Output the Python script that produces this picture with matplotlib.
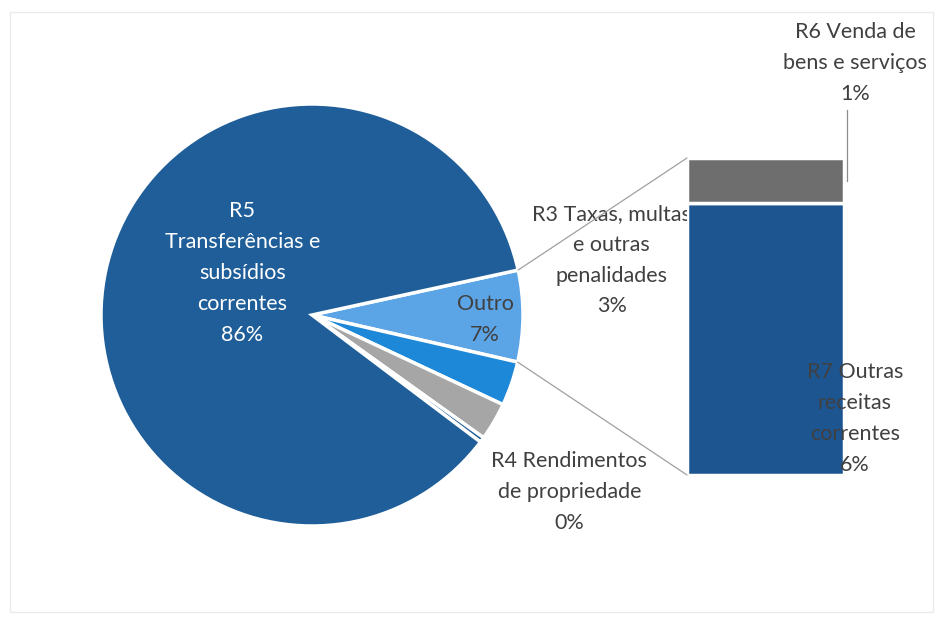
import matplotlib
matplotlib.use("Agg")
import matplotlib.pyplot as plt
from matplotlib.patches import ConnectionPatch, Rectangle
import numpy as np

plt.rcParams['font.family'] = ['Lato', 'DejaVu Sans']

# pie slices (clockwise from the top edge of "Outro")
pie_names = ["Outro", "R3 Taxas, multas\ne outras\npenalidades", "", "R4 Rendimentos\nde propriedade",
             "R5\nTransferências e\nsubsídios\ncorrentes"]
pie_values = [7.0, 3.4, 2.9, 0.4, 86.3]
pie_colors = ["#5BA4E6", "#1D87D8", "#A6A6A6", "#1F5E99", "#1F5E99"]

# bar of the pie ("Outro" split)
bar_names = ["R7 Outras\nreceitas\ncorrentes", "R6 Venda de\nbens e serviços"]
bar_values = [6.0, 1.0]
bar_colors = ["#1D5591", "#6E6E6E"]

W, H = 940, 618
fig = plt.figure(figsize=(W / 100, H / 100), dpi=100)

# faint chart border
fig.patches.append(Rectangle((10 / W, 1 - 612 / H), 923 / W, 600 / H, transform=fig.transFigure,
                             fill=False, edgecolor="#EBEBEB", linewidth=1))

# pie axes: centre (312, 315) px, radius 211 px
cx, cy, r = 312, 315, 211
ax = fig.add_axes([(cx - r) / W, (H - cy - r) / H, 2 * r / W, 2 * r / H])
start = 12.3
wedges, _ = ax.pie(pie_values, colors=pie_colors, startangle=start, counterclock=False, radius=1,
                   wedgeprops=dict(edgecolor="white", linewidth=2.5))
ax.set_xlim(-1, 1)
ax.set_ylim(-1, 1)
ax.axis("off")

total = sum(pie_values)
pct = [f"{round(v / total * 100)}%" for v in pie_values]

txt = dict(ha="center", va="center", fontsize=15.5, linespacing=1.68, color="#404040")
ax.text(-0.33, 0.20, pie_names[4] + "\n" + pct[4], **{**txt, "color": "white"})
ax.text(0.82, -0.02, pie_names[0] + "\n" + pct[0], **txt)
ax.text(1.42, 0.26, pie_names[1] + "\n" + pct[1], clip_on=False, **txt)
ax.text(1.22, -0.84, pie_names[3] + "\n" + pct[3], clip_on=False, **txt)

# bar axes: x 687..844, y 158..475 px
bx0, bx1, by0, by1 = 687, 844, 158, 475
bax = fig.add_axes([bx0 / W, (H - by1) / H, (bx1 - bx0) / W, (by1 - by0) / H])
bar_total = sum(bar_values)
bax.set_xlim(-0.5, 0.5)
bax.set_ylim(0, bar_total)
bax.axis("off")
bottom = 0
for v, c in zip(bar_values, bar_colors):
    bax.bar(0, v, width=1, bottom=bottom, color=c, edgecolor="white", linewidth=2.5)
    bottom += v

bpct = [f"{round(v / total * 100)}%" for v in bar_values]
bax.text(0.57, 1.25, bar_names[0] + "\n" + bpct[0], clip_on=False, **txt)
bax.text(0.57, 9.1, bar_names[1] + "\n" + bpct[1], clip_on=False, **txt)
bax.plot([0.52, 0.52], [6.5, 8.05], color="#8C8C8C", linewidth=0.9, clip_on=False)

# leader lines from the "Outro" wedge to the bar
t1 = np.deg2rad(start)
t2 = np.deg2rad(start - pie_values[0] / total * 360)
for ang, ybar in [(t1, bar_total), (t2, 0)]:
    con = ConnectionPatch(xyA=(np.cos(ang), np.sin(ang)), coordsA=ax.transData,
                          xyB=(-0.5, ybar), coordsB=bax.transData,
                          color="#A0A0A0", linewidth=0.9)
    fig.add_artist(con)

fig.savefig("out.png", dpi=100)
